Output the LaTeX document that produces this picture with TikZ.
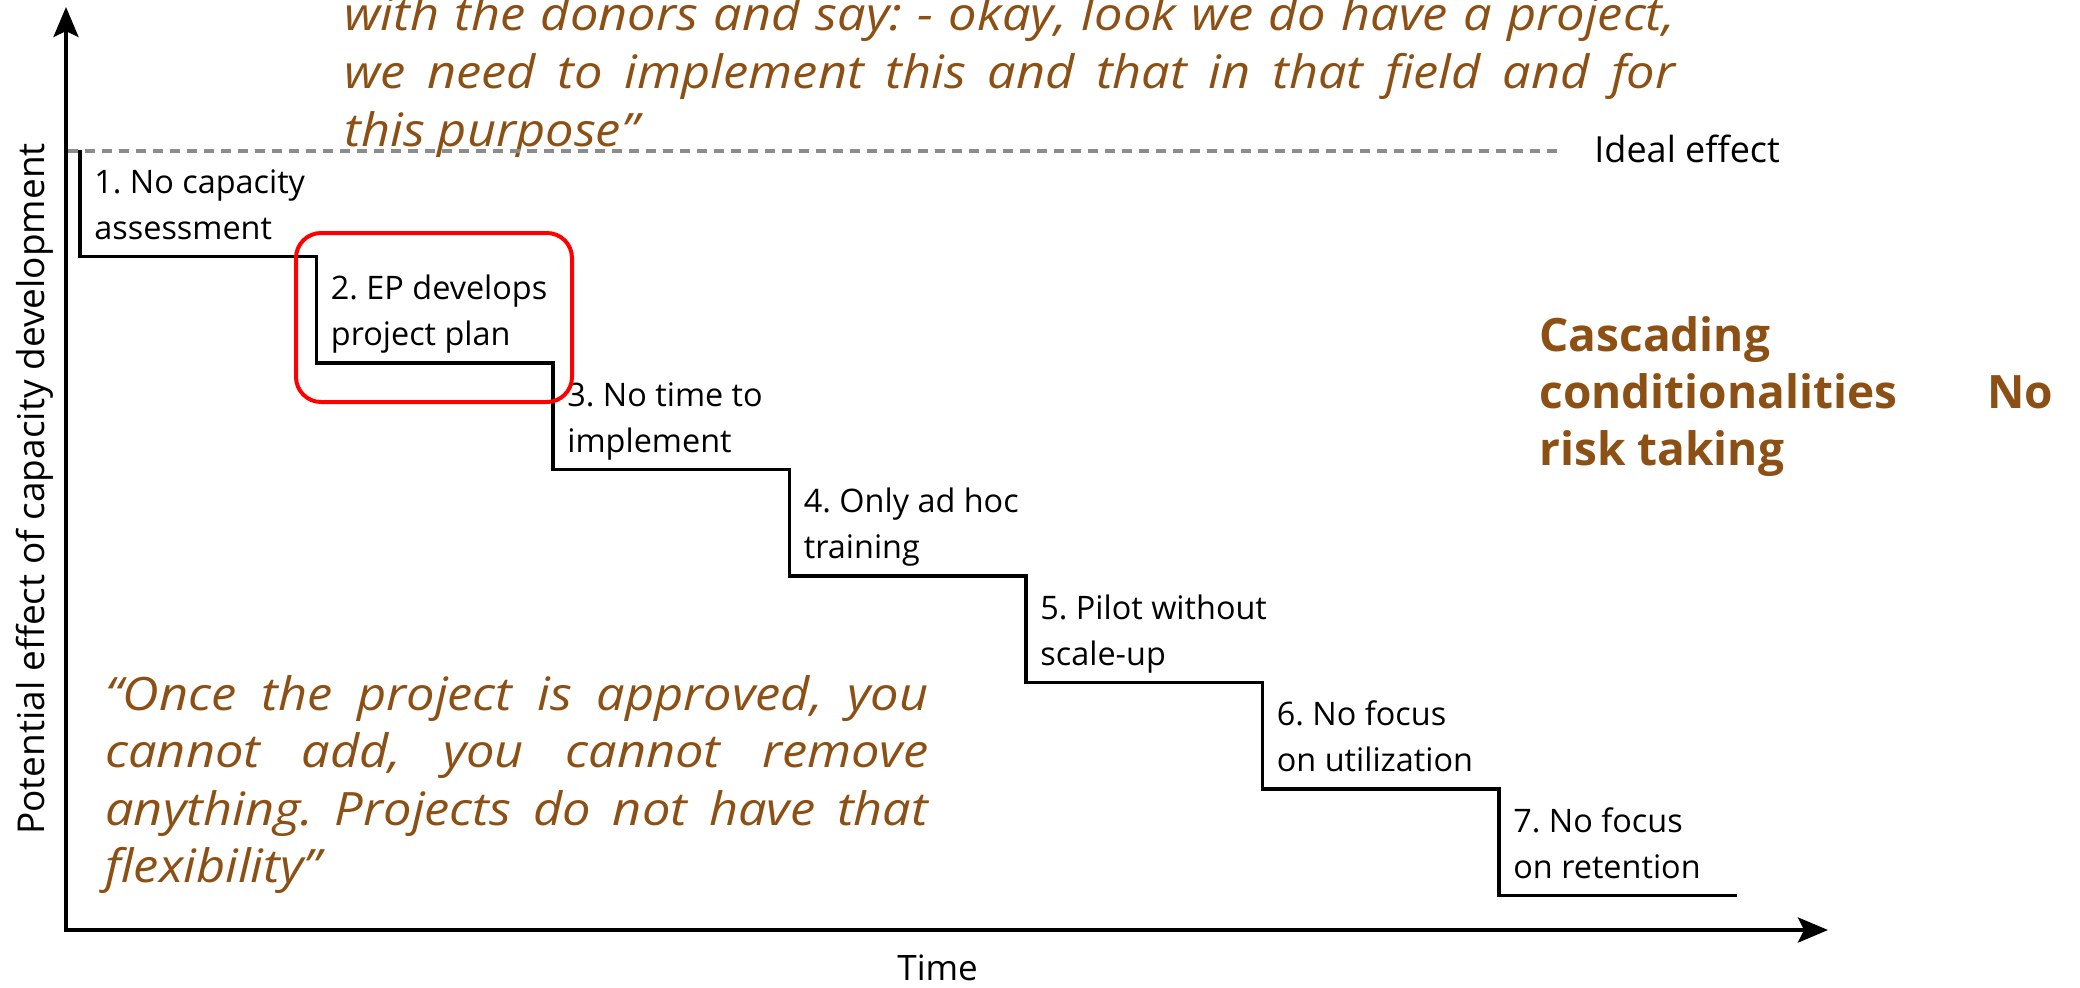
\documentclass[tikz,border=0pt]{standalone}
\usepackage{fontspec}
\setmainfont{Open Sans}
\newfontfamily\quotefont[FakeStretch=1.1]{Open Sans}
\usetikzlibrary{arrows.meta}
\definecolor{quotebrown}{RGB}{140,80,20}
\definecolor{idealgray}{RGB}{140,140,140}
\definecolor{markred}{RGB}{255,0,0}
\tikzset{axistip/.tip={Stealth[length=15pt, width=12.5pt, inset=3pt]}}
\frenchspacing
\begin{document}
\begin{tikzpicture}[x=0.5pt, y=-0.5pt,
  axisline/.style={line width=2pt, line join=miter},
  stair/.style={line width=1.7pt},
  ideal/.style={draw=idealgray, line width=2pt, dash pattern=on 5pt off 3.5pt},
  steptext/.style={anchor=base west, inner sep=0pt, font=\fontsize{16.2}{19}\selectfont},
  plaintext/.style={anchor=base west, inner sep=0pt},
  quotetext/.style={anchor=base west, inner sep=0pt, text=quotebrown,
    font=\quotefont\itshape\fontsize{23}{27}\selectfont},
  casctext/.style={anchor=base west, inner sep=0pt, text=quotebrown,
    font=\bfseries\fontsize{23}{27}\selectfont},
  highlight/.style={draw=markred, line width=2pt, rounded corners=12.5pt}]
\useasboundingbox (0,0) rectangle (2080,987);

% quotation above the chart
\node[quotetext] (qa1) at (344,30)
  {\makebox[665.5pt][s]{with the donors and say: - okay, look we do have a project,}};
\node[quotetext] (qa2) at (344,88)
  {\makebox[665.5pt][s]{we need to implement this and that in that field and for}};
\node[quotetext] (qa3) at (344,146) {this purpose”};

% ideal level
\coordinate (idealL) at (68,151);
\coordinate (idealR) at (1561,151);
\draw[ideal] (idealL) -- (idealR);
\node[plaintext, font=\fontsize{18}{22}\selectfont] (ideallabel) at (1594,162) {Ideal effect};

% axes
\coordinate (origin) at (66,930);
\coordinate (ytip) at (66,7);
\coordinate (xtip) at (1828,930);
\draw[axisline, axistip-axistip] (ytip) -- (origin) -- (xtip);
\node[rotate=90, anchor=base, inner sep=0pt, font=\fontsize{18.5}{22}\selectfont]
  (ylabel) at (44,489) {Potential effect of capacity development};
\node[plaintext, font=\fontsize{17.5}{21}\selectfont] (xlabel) at (897,980) {Time};

% descending staircase of effects
\draw[stair] (80,150) |- (316.5,256.5) |- (553,363) |- (789.5,469.5)
  |- (1026,576) |- (1262.5,682.5) |- (1499,789) |- (1736.5,895.5);

\foreach \i/\la/\lb in {0/{1. No capacity}/{assessment},
                        1/{2. EP develops}/{project plan},
                        2/{3. No time to}/{implement},
                        3/{4. Only ad hoc}/{training},
                        4/{5. Pilot without}/{scale-up},
                        5/{6. No focus}/{on utilization},
                        6/{7. No focus}/{on retention}} {
  \node[steptext] (sa\i) at ({94+236.5*\i},{193+106.5*\i}) {\la};
  \node[steptext] (sb\i) at ({94+236.5*\i},{239+106.5*\i}) {\lb};
}

% conclusion
\node[casctext] (ca1) at (1539,351) {Cascading};
\node[casctext] (ca2) at (1539,408) {\makebox[257pt][s]{conditionalities No}};
\node[casctext] (ca3) at (1539,465) {risk taking};

% quotation below the chart
\node[quotetext] (qb1) at (105,710)
  {\makebox[411.5pt][s]{“Once the project is approved, you}};
\node[quotetext] (qb2) at (105,767.5)
  {\makebox[411.5pt][s]{cannot add, you cannot remove}};
\node[quotetext] (qb3) at (105,825)
  {\makebox[411.5pt][s]{anything. Projects do not have that}};
\node[quotetext] (qb4) at (105,882.5) {flexibility”};

% highlighted step
\draw[highlight] (296,233) rectangle (572,402);
\end{tikzpicture}
\end{document}
